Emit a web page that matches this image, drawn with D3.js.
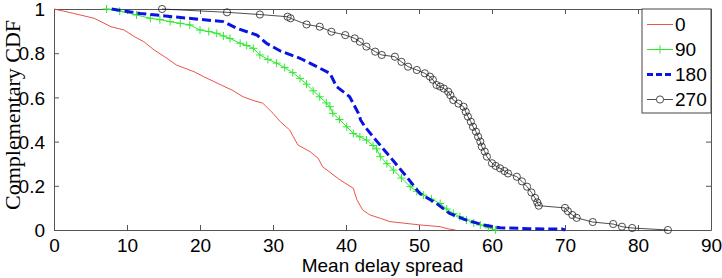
<!DOCTYPE html>
<html>
<head>
<meta charset="utf-8">
<script src="https://cdn.jsdelivr.net/npm/d3@7"></script>
<style>
  body { margin: 0; background: #fff; }
  text { font-family: "Liberation Sans", Arial, sans-serif; fill: #000; }
</style>
</head>
<body>
<svg width="722" height="278"></svg>
<script>
// Step 1: the data
const seriesNames = ["0", "90", "180", "270"];

const x0 = [0, 2.7, 5.5, 7.8, 9.6, 11, 12.3, 13.7, 15.1, 16.8, 19.2, 20.5, 22.9, 24.4, 25.9, 27.4, 28.6, 30, 31, 32.3, 33.4, 35.1, 36.2, 36.8, 39.2, 41, 41.5, 42.3, 43.3, 44.7, 46, 50.1, 52.9, 54, 55];
const y0 = [1, 0.98, 0.958, 0.92, 0.905, 0.875, 0.852, 0.815, 0.785, 0.746, 0.716, 0.694, 0.656, 0.633, 0.603, 0.585, 0.574, 0.528, 0.49, 0.452, 0.385, 0.354, 0.324, 0.286, 0.226, 0.189, 0.136, 0.09, 0.068, 0.053, 0.038, 0.023, 0.015, 0.005, 0];

const x90 = [7.2, 9, 11.3, 13.2, 14.5, 15.9, 17.3, 18.6, 20, 21.2, 22.3, 23.2, 24.1, 25.5, 26.4, 27.3, 28.2, 29.3, 30.5, 31.6, 32.7, 33.7, 34.6, 35.5, 36.4, 37.3, 37.8, 38.2, 39.1, 40.1, 41, 41.9, 42.8, 43.7, 44.2, 44.7, 45.6, 46.5, 47.6, 48.8, 49.7, 50.6, 51.7, 52.9, 53.8, 54.7, 55.6, 56.5, 57.5, 58.4, 59.5, 60.5];
const y90 = [1, 0.99, 0.973, 0.958, 0.952, 0.943, 0.935, 0.928, 0.905, 0.898, 0.89, 0.878, 0.867, 0.845, 0.835, 0.822, 0.792, 0.772, 0.755, 0.735, 0.712, 0.686, 0.66, 0.63, 0.603, 0.575, 0.558, 0.528, 0.5, 0.467, 0.437, 0.422, 0.407, 0.382, 0.367, 0.332, 0.3, 0.271, 0.235, 0.196, 0.175, 0.158, 0.14, 0.12, 0.095, 0.075, 0.06, 0.045, 0.032, 0.023, 0.01, 0];

const x180 = [7.9, 11.8, 16.3, 20.9, 23.2, 25, 27.8, 29.1, 31, 33.7, 36, 37.8, 38.7, 40.5, 41.7, 42, 42.6, 43.7, 46, 48.3, 50.1, 52.4, 54.2, 56.5, 58.8, 61.1, 65, 69.6, 70];
const y180 = [1, 0.98, 0.965, 0.95, 0.943, 0.913, 0.882, 0.845, 0.81, 0.777, 0.739, 0.709, 0.649, 0.603, 0.528, 0.498, 0.467, 0.422, 0.332, 0.241, 0.166, 0.12, 0.075, 0.045, 0.023, 0.01, 0.006, 0.004, 0];

const x270 = [14.8, 23.7, 28.2, 32, 32.4, 34.6, 36.4, 38, 39.9, 41.2, 41.9, 42.8, 44, 44.9, 46.7, 47.6, 48.5, 49.7, 50.8, 51.5, 51.9, 52.4, 52.9, 53.4, 54, 54.3, 54.7, 55.4, 56.1, 56.4, 56.7, 57.1, 57.4, 57.8, 58.1, 58.4, 58.6, 59, 59.3, 60, 60.5, 61.1, 61.7, 62.2, 63.4, 64.1, 64.8, 65.4, 65.9, 66.2, 66.4, 70, 70.4, 71, 71.6, 73.8, 76.6, 77.8, 79.2, 84.1];
const y270 = [1, 0.985, 0.975, 0.965, 0.958, 0.93, 0.92, 0.897, 0.882, 0.867, 0.852, 0.83, 0.807, 0.792, 0.784, 0.761, 0.739, 0.724, 0.709, 0.694, 0.68, 0.656, 0.649, 0.64, 0.626, 0.61, 0.588, 0.572, 0.558, 0.535, 0.513, 0.49, 0.467, 0.445, 0.422, 0.4, 0.377, 0.355, 0.332, 0.302, 0.29, 0.279, 0.267, 0.256, 0.241, 0.22, 0.196, 0.17, 0.145, 0.125, 0.11, 0.1, 0.085, 0.068, 0.055, 0.036, 0.027, 0.015, 0.009, 0];

const xTicks = [0, 10, 20, 30, 40, 50, 60, 70, 80, 90];
const yTicks = [0, 0.2, 0.4, 0.6, 0.8, 1];

// Step 2: canvas and scales
const plotLeft = 54, plotRight = 711, plotTop = 9, plotBottom = 230;
const svg = d3.select("svg");

const x = d3.scaleLinear().domain([0, 90]).range([plotLeft, plotRight]);
const y = d3.scaleLinear().domain([0, 1]).range([plotBottom, plotTop]);

const zip = (xs, ys) => xs.map((v, i) => [v, ys[i]]);
const line = d3.line().x(d => x(d[0])).y(d => y(d[1]));

// Step 3: axes with inward ticks on all four sides
const axisColor = "#555";
const tickFont = "19px";

svg.append("g")
    .attr("transform", `translate(0,${plotBottom})`)
    .call(d3.axisBottom(x).tickValues(xTicks).tickSizeInner(-5).tickSizeOuter(0).tickPadding(9))
    .call(g => g.selectAll("text").style("font-size", tickFont));

svg.append("g")
    .attr("transform", `translate(${plotLeft},0)`)
    .call(d3.axisLeft(y).tickValues(yTicks).tickFormat(d3.format("~g")).tickSizeInner(-5).tickSizeOuter(0).tickPadding(9))
    .call(g => g.selectAll("text").style("font-size", tickFont).attr("dy", "0.35em"));

svg.append("g")
    .attr("transform", `translate(0,${plotTop})`)
    .call(d3.axisTop(x).tickValues(xTicks).tickSizeInner(-5).tickSizeOuter(0).tickFormat(""));

svg.append("g")
    .attr("transform", `translate(${plotRight},0)`)
    .call(d3.axisRight(y).tickValues(yTicks).tickSizeInner(-5).tickSizeOuter(0).tickFormat(""));

svg.selectAll(".domain, .tick line").attr("stroke", axisColor).attr("stroke-width", 1);
svg.selectAll(".tick text").attr("fill", "#000");

// Step 4: the four curves
svg.append("path")
    .attr("d", line(zip(x0, y0)))
    .attr("fill", "none")
    .attr("stroke", "#e8403a")
    .attr("stroke-width", 0.9);

const green = "#2ee82e";
svg.append("path")
    .attr("d", line(zip(x90, y90)))
    .attr("fill", "none")
    .attr("stroke", green)
    .attr("stroke-width", 1);

svg.append("g").selectAll("path")
    .data(zip(x90, y90))
    .enter()
    .append("path")
    .attr("d", d => `M${x(d[0]) - 4},${y(d[1])}h8M${x(d[0])},${y(d[1]) - 4}v8`)
    .attr("stroke", green)
    .attr("stroke-width", 1);

svg.append("path")
    .attr("d", line(zip(x180, y180)))
    .attr("fill", "none")
    .attr("stroke", "#0a14e0")
    .attr("stroke-width", 3)
    .attr("stroke-dasharray", "9,4");

svg.append("path")
    .attr("d", line(zip(x270, y270)))
    .attr("fill", "none")
    .attr("stroke", "#222")
    .attr("stroke-width", 0.8);

svg.append("g").selectAll("circle")
    .data(zip(x270, y270))
    .enter()
    .append("circle")
    .attr("cx", d => x(d[0]))
    .attr("cy", d => y(d[1]))
    .attr("r", 3.6)
    .attr("fill", "none")
    .attr("stroke", "#222")
    .attr("stroke-width", 0.8);

// Step 5: axis titles
svg.append("text")
    .attr("x", (plotLeft + plotRight) / 2)
    .attr("y", 272)
    .attr("text-anchor", "middle")
    .style("font-size", "19px")
    .text("Mean delay spread");

svg.append("text")
    .attr("transform", "translate(20,115) rotate(-90)")
    .attr("text-anchor", "middle")
    .style("font-family", "'Liberation Serif', 'Times New Roman', serif")
    .style("font-size", "22px")
    .text("Complementary CDF");

// Step 6: legend
const legend = svg.append("g");
legend.append("rect")
    .attr("x", 642).attr("y", plotTop)
    .attr("width", plotRight - 642).attr("height", 104)
    .attr("fill", "#fff")
    .attr("stroke", "#444")
    .attr("stroke-width", 1);

const legendY = [24.5, 49.5, 74.5, 99.5];
const legendStyle = [
    { stroke: "#e8403a", width: 0.9, dash: null },
    { stroke: green, width: 1, dash: null },
    { stroke: "#0a14e0", width: 3, dash: "6,3" },
    { stroke: "#222", width: 0.8, dash: null }
];

seriesNames.forEach((name, i) => {
    const ly = legendY[i];
    const s = legendStyle[i];
    legend.append("line")
        .attr("x1", 647).attr("x2", 673)
        .attr("y1", ly).attr("y2", ly)
        .attr("stroke", s.stroke)
        .attr("stroke-width", s.width)
        .attr("stroke-dasharray", s.dash);
    if (i === 1) {
        legend.append("path")
            .attr("d", `M656,${ly}h8M660,${ly - 4}v8`)
            .attr("stroke", green);
    }
    if (i === 3) {
        legend.append("circle")
            .attr("cx", 660).attr("cy", ly).attr("r", 3.6)
            .attr("fill", "#fff").attr("stroke", "#222").attr("stroke-width", 0.8);
    }
    legend.append("text")
        .attr("x", 675)
        .attr("y", ly)
        .attr("dy", "0.35em")
        .style("font-size", "19px")
        .text(name);
});
</script>
</body>
</html>
